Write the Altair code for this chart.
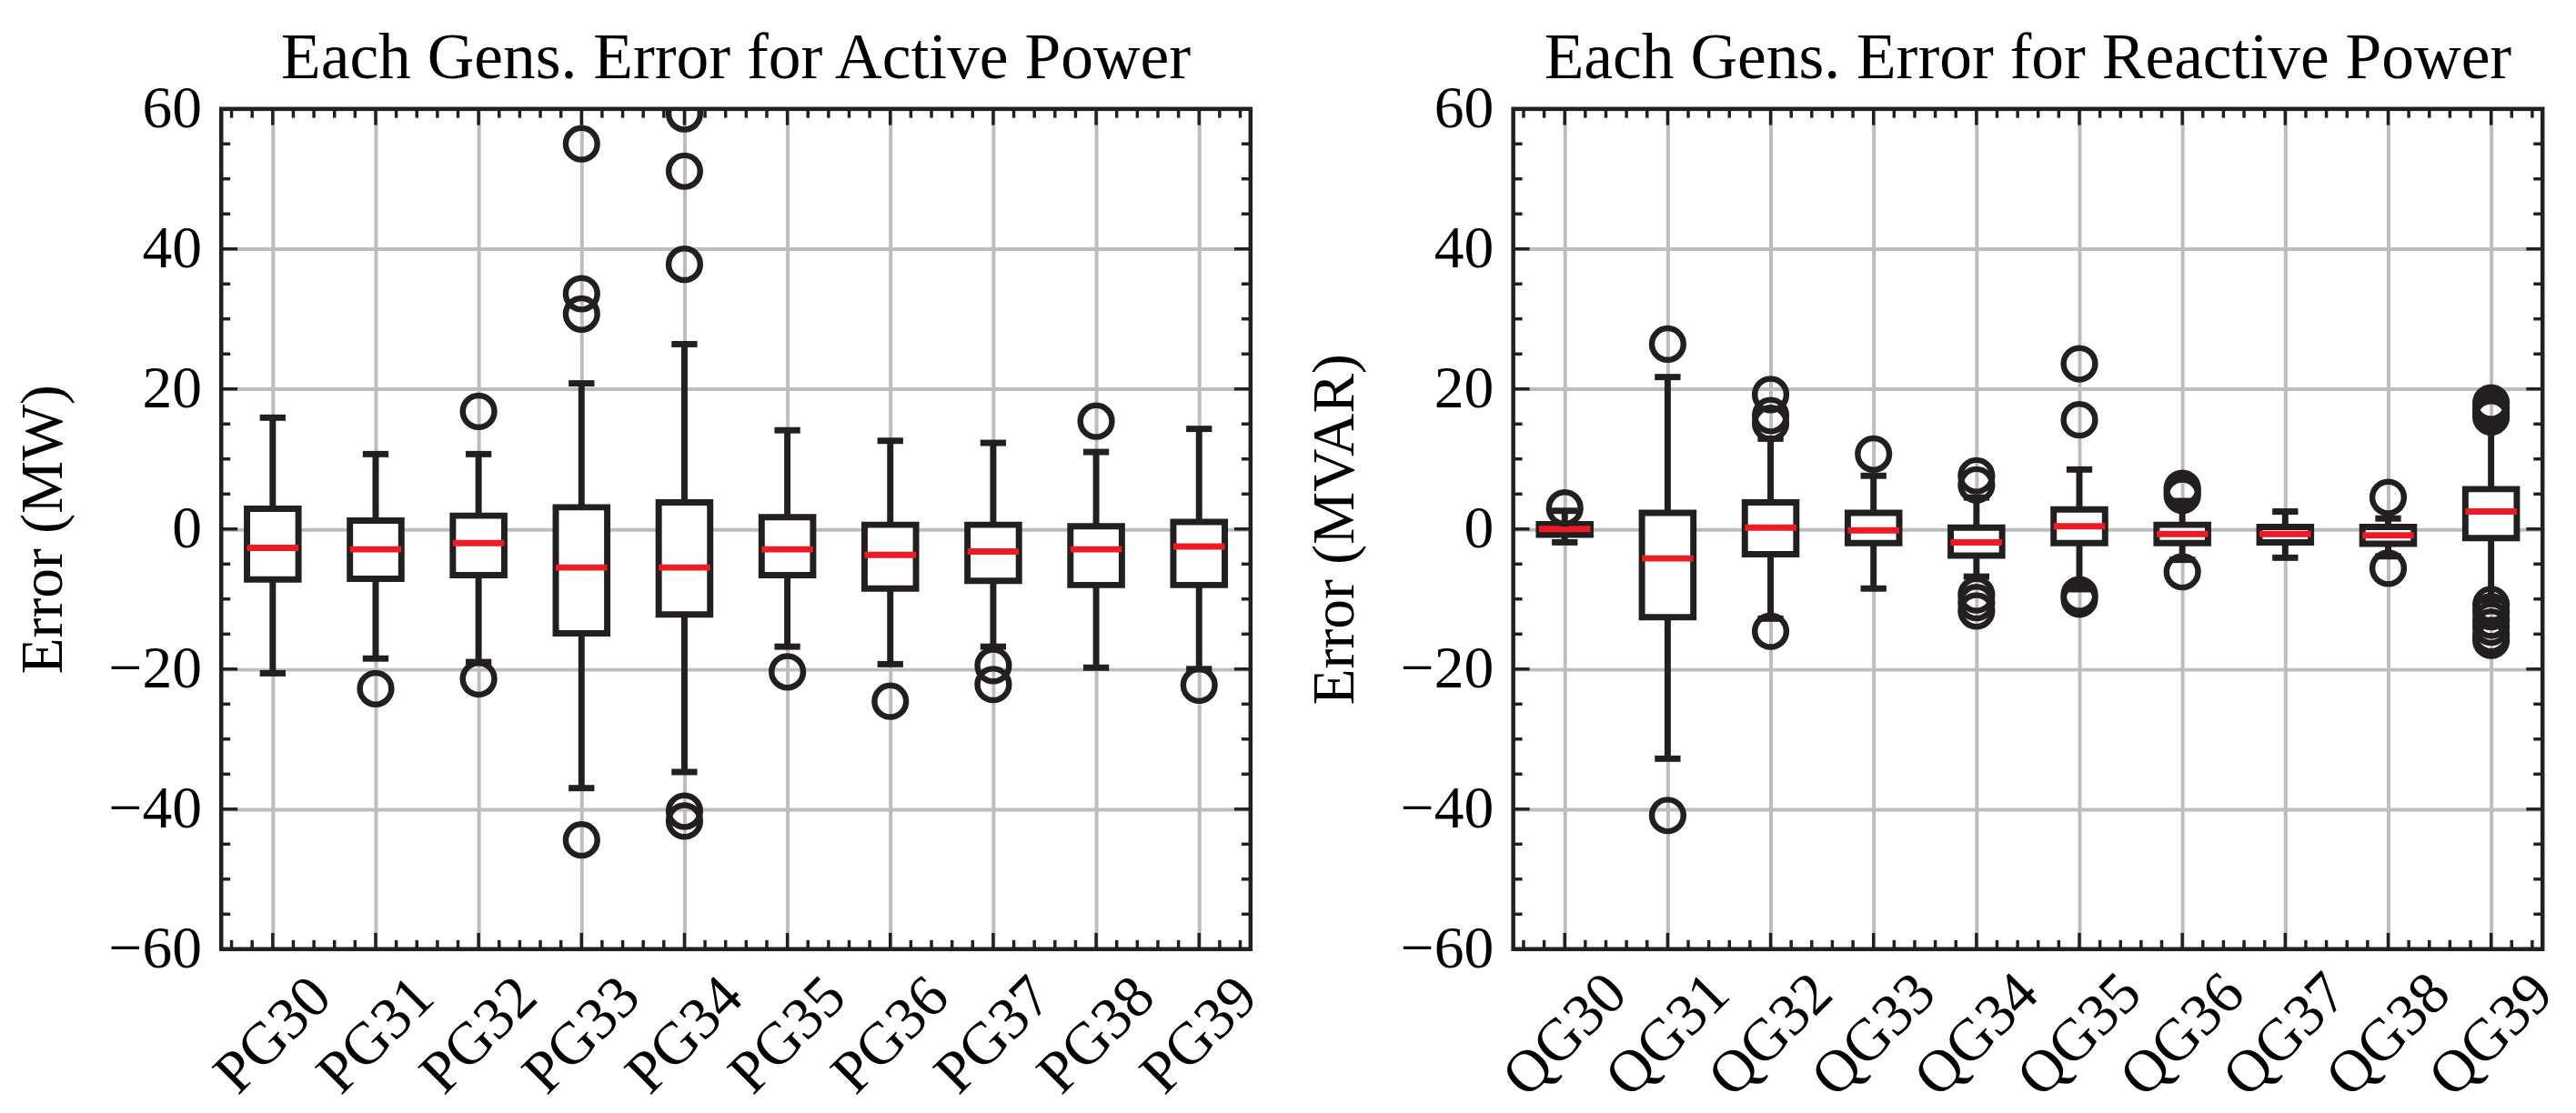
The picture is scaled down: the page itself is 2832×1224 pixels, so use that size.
import altair as alt
import pandas as pd
import numpy as np

# ---------------- data ----------------
p_names = ["PG30", "PG31", "PG32", "PG33", "PG34", "PG35", "PG36", "PG37", "PG38", "PG39"]
p_q1 = [-7.2, -7.1, -6.6, -14.9, -12.2, -6.6, -8.5, -7.4, -8.0, -8.0]
p_med = [-2.7, -2.9, -2.0, -5.5, -5.5, -2.9, -3.7, -3.2, -2.9, -2.5]
p_q3 = [2.9, 1.2, 1.9, 3.1, 3.8, 1.7, 0.6, 0.6, 0.4, 1.0]
p_wlo = [-20.6, -18.5, -19.0, -37.0, -34.7, -16.8, -19.3, -16.8, -19.8, -20.0]
p_whi = [15.9, 10.7, 10.7, 20.8, 26.4, 14.1, 12.6, 12.3, 11.0, 14.3]
p_out = [
    [],
    [-22.8],
    [16.8, -21.4],
    [55.0, 33.6, 30.7, -44.4],
    [59.3, 51.1, 37.8, -40.3, -41.7],
    [-20.4],
    [-24.6],
    [-19.5, -22.2],
    [15.4],
    [-22.3],
]

q_names = ["QG30", "QG31", "QG32", "QG33", "QG34", "QG35", "QG36", "QG37", "QG38", "QG39"]
q_q1 = [-0.8, -12.6, -3.6, -2.0, -3.8, -2.0, -2.0, -1.9, -2.1, -1.3]
q_med = [0.0, -4.2, 0.2, -0.2, -1.9, 0.4, -0.7, -0.7, -0.9, 2.5]
q_q3 = [0.7, 2.3, 3.8, 2.3, 0.2, 2.8, 0.6, 0.3, 0.3, 5.7]
q_wlo = [-1.9, -32.8, -12.8, -8.5, -6.8, -8.6, -4.4, -4.1, -3.9, -10.2]
q_whi = [2.6, 21.7, 12.9, 7.6, 4.5, 8.5, 4.0, 2.5, 1.5, 15.5]
q_out = [
    [3.0],
    [26.4, -40.9],
    [19.2, 16.2, 15.1, -14.6],
    [10.7],
    [7.6, 6.3, -9.4, -10.5, -11.7],
    [23.6, 15.6, -9.4, -10.0],
    [5.8, 5.3, 4.8, -6.1],
    [],
    [4.5, -5.6],
    [18.0, 17.3, 16.6, 16.0, -10.8, -11.8, -13.0, -14.0, -15.2, -15.9],
]

y_ticks = [-60, -40, -20, 0, 20, 40, 60]

# ---------------- styling ----------------
W, H = 1140, 931
FONT = "Liberation Serif"
BLACK = "#231f20"
RED = "#ed1c24"
GRID = "#bdbdbd"
MAJ, MIN = 18, 10
LW = 7


def panel(names, q1, med, q3, wlo, whi, outs, title, ylabel):
    n = len(names)
    stats = pd.DataFrame({"pos": list(range(n)), "q1": q1, "med": med, "q3": q3,
                          "wlo": wlo, "whi": whi})
    out_df = pd.DataFrame([{"pos": i, "v": v} for i, vals in enumerate(outs) for v in vals])

    xs = alt.Scale(domain=[-0.5, n - 0.5], nice=False, zero=False)
    ys = alt.Scale(domain=[y_ticks[0], y_ticks[-1]], nice=False, zero=False)

    x_major = list(range(n))
    x_minor = [round(float(v), 1) for v in np.arange(-0.4, n - 0.5, 0.2)
               if abs(v - round(v)) > 1e-6]
    y_major = y_ticks[1:-1]
    y_minor = [v for v in range(y_ticks[0] + 5, y_ticks[-1], 5) if v % 20 != 0]

    label_arr = "[" + ",".join("'" + s + "'" for s in names) + "]"
    xaxis = alt.Axis(values=x_major, labelExpr=label_arr + "[datum.value]",
                     labelAngle=315, labelAlign="center", labelBaseline="middle",
                     labelPadding=95, ticks=False, tickSize=0, domain=False,
                     grid=True, gridColor=GRID, gridWidth=4, title=None,
                     labelFlush=False, labelOverlap=False, zindex=0)
    yaxis = alt.Axis(values=y_ticks,
                     labelExpr="datum.value < 0 ? '\u2212' + abs(datum.value) : '' + datum.value",
                     labelPadding=22, ticks=False, tickSize=0, domain=False,
                     grid=True, gridColor=GRID, gridWidth=4, title=ylabel,
                     titlePadding=38, labelFlush=False, labelOverlap=False, zindex=0)

    def X(f):
        return alt.X(f, scale=xs, axis=xaxis)

    def Y(f):
        return alt.Y(f, scale=ys, axis=yaxis)

    base = alt.Chart(stats)
    whisk = base.mark_rule(color=BLACK, strokeWidth=LW).encode(
        x=X("pos:Q"), y=Y("wlo:Q"), y2="whi:Q")
    capbase = base.transform_calculate(a="datum.pos - 0.125", b="datum.pos + 0.125")
    cap_lo = capbase.mark_rule(color=BLACK, strokeWidth=LW).encode(
        x=X("a:Q"), x2="b:Q", y=Y("wlo:Q"))
    cap_hi = capbase.mark_rule(color=BLACK, strokeWidth=LW).encode(
        x=X("a:Q"), x2="b:Q", y=Y("whi:Q"))
    boxbase = base.transform_calculate(a="datum.pos - 0.25", b="datum.pos + 0.25")
    box = boxbase.mark_rect(fill="white", stroke=BLACK, strokeWidth=LW).encode(
        x=X("a:Q"), x2="b:Q", y=Y("q1:Q"), y2="q3:Q")
    medl = boxbase.mark_rule(color=RED, strokeWidth=LW).encode(
        x=X("a:Q"), x2="b:Q", y=Y("med:Q"))
    pts = alt.Chart(out_df).mark_point(shape="circle", filled=False, size=1225,
                                       stroke=BLACK, strokeWidth=6.5, opacity=1,
                                       clip=True).encode(x=X("pos:Q"), y=Y("v:Q"))

    def xt(vals, length):
        d = alt.Chart(pd.DataFrame({"v": vals}))
        bot = d.mark_rule(color=BLACK, strokeWidth=3.5).encode(
            x=X("v:Q"), y=alt.value(H), y2=alt.value(H - length))
        top = d.mark_rule(color=BLACK, strokeWidth=3.5).encode(
            x=X("v:Q"), y=alt.value(0), y2=alt.value(length))
        return [bot, top]

    def yt(vals, length):
        d = alt.Chart(pd.DataFrame({"v": vals}))
        lef = d.mark_rule(color=BLACK, strokeWidth=3.5).encode(
            y=Y("v:Q"), x=alt.value(0), x2=alt.value(length))
        rig = d.mark_rule(color=BLACK, strokeWidth=3.5).encode(
            y=Y("v:Q"), x=alt.value(W), x2=alt.value(W - length))
        return [lef, rig]

    frame = alt.Chart(pd.DataFrame({"a": [0]})).mark_rect(
        fillOpacity=0, stroke=BLACK, strokeWidth=4.5).encode(
        x=alt.value(0), x2=alt.value(W), y=alt.value(0), y2=alt.value(H))

    layers = [whisk, cap_lo, cap_hi, box, medl, pts]
    layers += xt(x_major, MAJ) + xt(x_minor, MIN) + yt(y_major, MAJ) + yt(y_minor, MIN)
    layers.append(frame)
    return alt.layer(*layers).properties(width=W, height=H, title=title)


left = panel(p_names, p_q1, p_med, p_q3, p_wlo, p_whi, p_out,
             "Each Gens. Error for Active Power", "Error (MW)")
right = panel(q_names, q_q1, q_med, q_q3, q_wlo, q_whi, q_out,
              "Each Gens. Error for Reactive Power", "Error (MVAR)")

chart = alt.hconcat(left, right, spacing=40).properties(
    padding={"left": 6, "top": 16, "right": 5, "bottom": 5}
).configure_view(stroke=None).configure_axis(
    labelFont=FONT, labelFontSize=66, labelColor="black",
    titleFont=FONT, titleFontSize=66, titleFontWeight="normal", titleColor="black",
).configure_title(
    font=FONT, fontSize=72, fontWeight="normal", color="black", anchor="middle", offset=-14
)

chart.save("out.html", embed_options={"renderer": "svg", "actions": False})
